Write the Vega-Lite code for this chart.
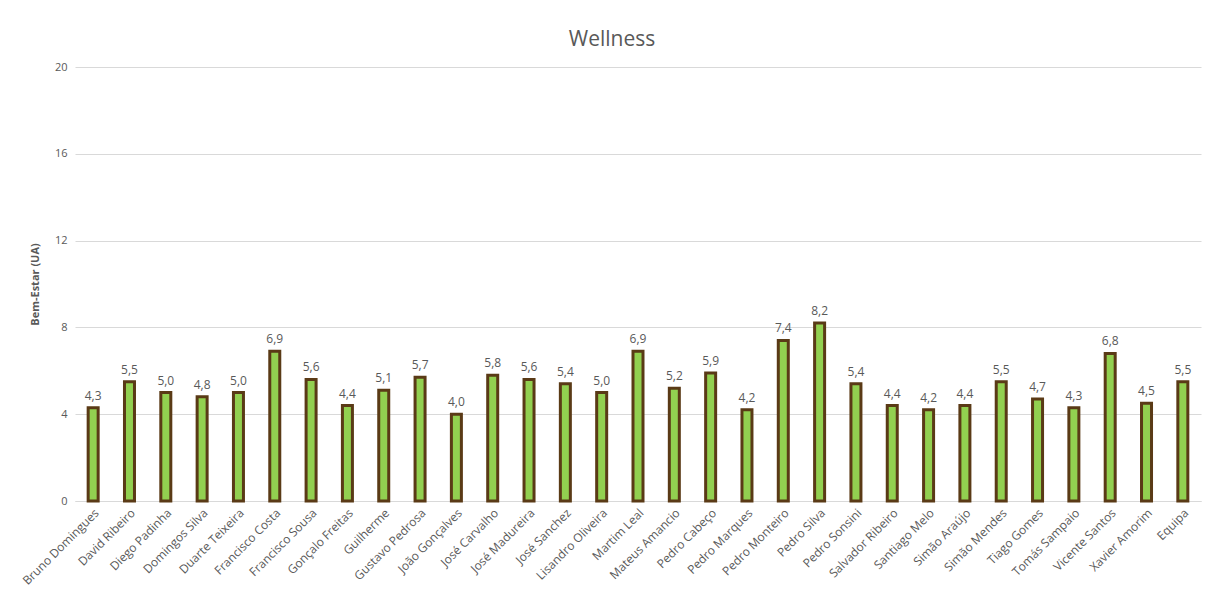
{
  "$schema": "https://vega.github.io/schema/vega-lite/v6.json",
  "autosize": "none",
  "width": 1126,
  "height": 434,
  "padding": {"left": 75, "top": 67, "right": 5, "bottom": 93},
  "background": "white",
  "title": {"text": "Wellness", "fontSize": 21, "font": "Open Sans", "fontWeight": "normal", "color": "#595959", "offset": 11, "dx": -26},
  "config": {
    "locale": {"number": {"decimal": ",", "thousands": ".", "grouping": [3], "currency": ["", " €"]}},
    "view": {"stroke": null},
    "font": "Open Sans"
  },
  "data": {"values": [
    {"nome": "Bruno Domingues", "valor": 4.3},
    {"nome": "David Ribeiro", "valor": 5.5},
    {"nome": "Diego Padinha", "valor": 5.0},
    {"nome": "Domingos Silva", "valor": 4.8},
    {"nome": "Duarte Teixeira", "valor": 5.0},
    {"nome": "Francisco Costa", "valor": 6.9},
    {"nome": "Francisco Sousa", "valor": 5.6},
    {"nome": "Gonçalo Freitas", "valor": 4.4},
    {"nome": "Guilherme", "valor": 5.1},
    {"nome": "Gustavo Pedrosa", "valor": 5.7},
    {"nome": "João Gonçalves", "valor": 4.0},
    {"nome": "José Carvalho", "valor": 5.8},
    {"nome": "José Madureira", "valor": 5.6},
    {"nome": "José Sanchez", "valor": 5.4},
    {"nome": "Lisandro Oliveira", "valor": 5.0},
    {"nome": "Martim Leal", "valor": 6.9},
    {"nome": "Mateus Amancio", "valor": 5.2},
    {"nome": "Pedro Cabeço", "valor": 5.9},
    {"nome": "Pedro Marques", "valor": 4.2},
    {"nome": "Pedro Monteiro", "valor": 7.4},
    {"nome": "Pedro Silva", "valor": 8.2},
    {"nome": "Pedro Sonsini", "valor": 5.4},
    {"nome": "Salvador Ribeiro", "valor": 4.4},
    {"nome": "Santiago Melo", "valor": 4.2},
    {"nome": "Simão Araújo", "valor": 4.4},
    {"nome": "Simão Mendes", "valor": 5.5},
    {"nome": "Tiago Gomes", "valor": 4.7},
    {"nome": "Tomás Sampaio", "valor": 4.3},
    {"nome": "Vicente Santos", "valor": 6.8},
    {"nome": "Xavier Amorim", "valor": 4.5},
    {"nome": "Equipa", "valor": 5.5}
  ]},
  "encoding": {
    "x": {"field": "nome", "type": "nominal", "sort": null, "title": null,
      "axis": {"labelAngle": -45, "labelFontSize": 12, "labelColor": "#595959", "ticks": false, "domainColor": "#d9d9d9", "labelPadding": 6, "labelOverlap": false}},
    "y": {"field": "valor", "type": "quantitative", "title": "Bem-Estar (UA)",
      "scale": {"domain": [0, 20]},
      "axis": {"values": [0, 4, 8, 12, 16, 20], "labelFontSize": 11, "labelColor": "#595959", "ticks": false, "domain": false, "gridColor": "#d9d9d9", "labelPadding": 8, "titleFontSize": 11, "titleFontWeight": "bold", "titleColor": "#595959", "titlePadding": 14}}
  },
  "layer": [
    {"mark": {"type": "bar", "size": 10, "fill": "#92d050", "stroke": "#5a3a16", "strokeWidth": 3}},
    {"mark": {"type": "text", "dy": -12, "fontSize": 12, "color": "#595959"},
     "encoding": {"text": {"field": "valor", "type": "quantitative", "format": ".1f"}}}
  ]
}
